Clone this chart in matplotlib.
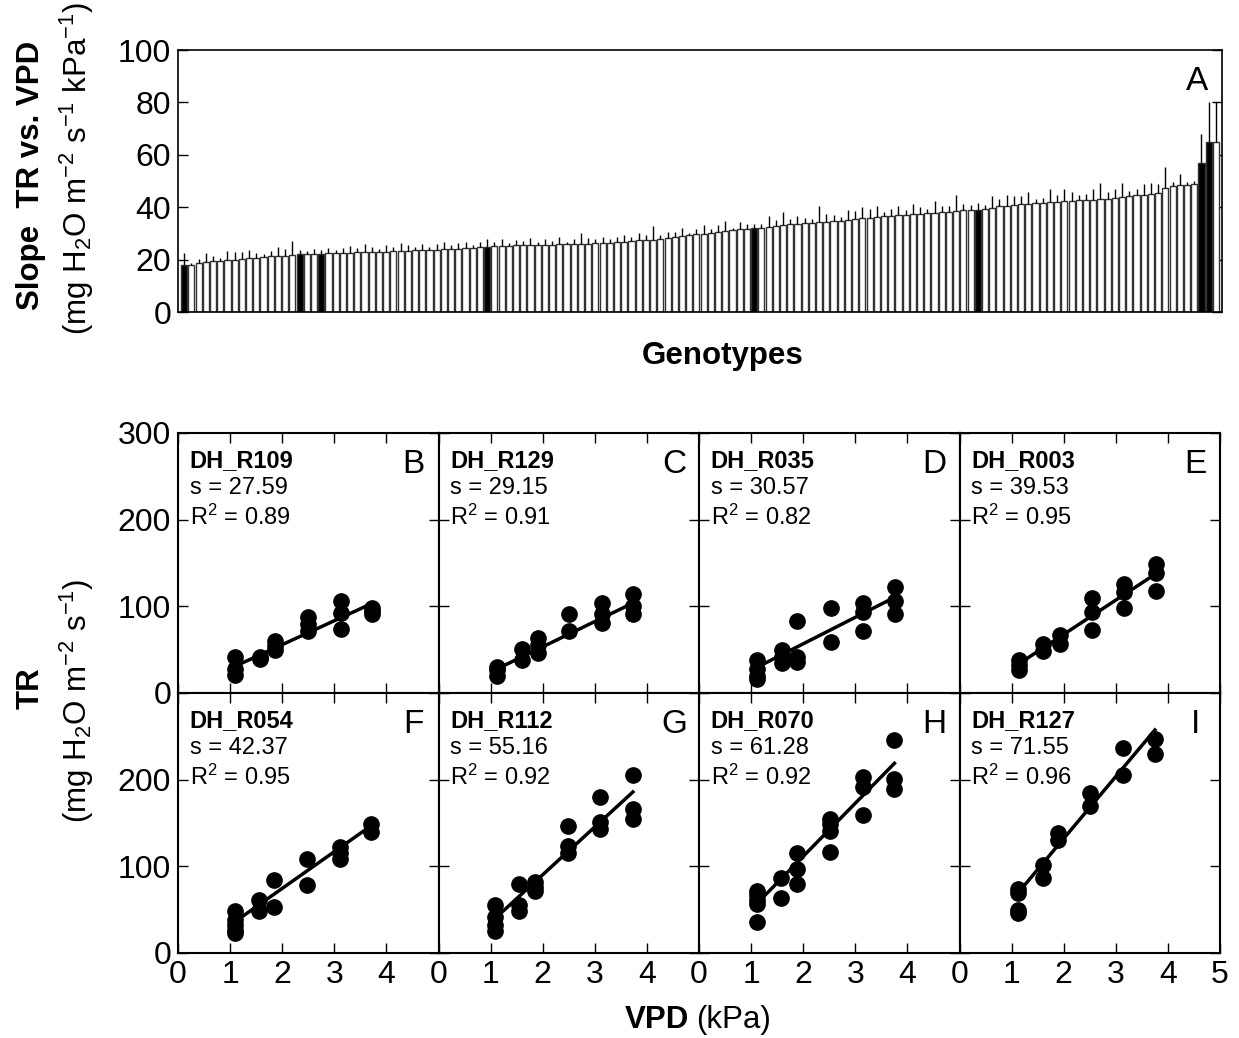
import numpy as np
import matplotlib
matplotlib.use("Agg")
import matplotlib.pyplot as plt

plt.rcParams['font.family'] = ['Liberation Sans', 'DejaVu Sans']
plt.rcParams['mathtext.fontset'] = 'custom'
plt.rcParams['mathtext.rm'] = 'Liberation Sans'
plt.rcParams['mathtext.it'] = 'Liberation Sans:italic'
plt.rcParams['mathtext.bf'] = 'Liberation Sans:bold'

# ---------------- panel A: slope of TR vs VPD per genotype ----------------
slope_mean = [
    18.0, 17.8, 18.9, 19.2, 19.4, 19.5, 19.8, 20.0, 20.3, 20.5, 20.7, 21.0,
    21.2, 21.3, 21.5, 21.6, 22.0, 22.1, 22.2, 22.3, 22.4, 22.5, 22.6, 22.7,
    22.8, 22.9, 23.0, 23.0, 23.1, 23.2, 23.3, 23.4, 23.5, 23.6, 23.7, 23.8,
    23.9, 24.0, 24.2, 24.4, 24.6, 24.8, 25.0, 25.1, 25.2, 25.3, 25.4, 25.5,
    25.6, 25.6, 25.7, 25.7, 25.8, 25.8, 25.9, 26.0, 26.1, 26.2, 26.3, 26.5,
    26.7, 26.9, 27.1, 27.3, 27.4, 27.5, 27.8, 28.2, 28.6, 29.0, 29.3, 29.6,
    29.9, 30.2, 30.6, 30.9, 31.2, 31.5, 31.7, 32.0, 32.2, 32.5, 32.8, 33.2,
    33.5, 33.7, 33.9, 34.1, 34.3, 34.5, 34.7, 34.9, 35.1, 35.4, 35.7, 36.0,
    36.3, 36.5, 36.7, 36.9, 37.1, 37.3, 37.5, 37.7, 37.9, 38.1, 38.3, 38.6,
    38.8, 38.9, 39.0, 39.3, 39.8, 40.3, 40.6, 40.9, 41.1, 41.3, 41.5, 41.7,
    41.9, 42.1, 42.3, 42.5, 42.6, 42.7, 42.9, 43.1, 43.3, 43.6, 43.9, 44.2,
    44.5, 44.8, 45.1, 45.4, 47.2, 48.0, 48.3, 48.6, 49.0, 57.0, 65.0, 65.0,
]
slope_se = [
    4.5, 1.0, 1.5, 3.5, 2.0, 1.0, 3.5, 3.0, 2.5, 3.0, 2.0, 1.0,
    2.0, 3.5, 2.5, 5.5, 1.5, 1.2, 2.0, 1.5, 2.0, 1.0, 2.0, 2.5,
    1.5, 3.0, 2.0, 1.0, 2.5, 1.5, 3.0, 2.0, 1.5, 2.5, 1.0, 2.0,
    3.0, 1.5, 2.0, 2.5, 1.0, 2.0, 3.0, 1.5, 2.5, 1.0, 2.0, 1.5,
    2.5, 1.0, 2.0, 1.5, 3.0, 1.0, 2.0, 4.0, 2.0, 1.5, 2.5, 1.5,
    2.0, 2.5, 1.5, 3.0, 2.0, 5.5, 1.5, 2.5, 2.0, 3.0, 1.0, 2.0,
    3.5, 1.5, 2.5, 4.0, 1.0, 3.0, 2.0, 1.5, 1.5, 4.0, 2.5, 5.0,
    2.0, 3.0, 2.0, 1.5, 6.0, 3.0, 2.5, 1.5, 4.0, 3.0, 4.5, 3.5,
    4.0, 1.5, 2.5, 3.5, 2.0, 4.0, 2.5, 1.5, 4.5, 2.5, 2.0, 6.0,
    2.5, 2.0, 2.5, 1.5, 4.5, 3.0, 4.0, 3.5, 3.0, 4.5, 1.5, 2.0,
    5.0, 2.5, 4.5, 3.5, 2.0, 2.5, 4.0, 6.0, 2.5, 3.5, 5.5, 2.0,
    2.5, 4.0, 4.0, 3.5, 8.0, 1.5, 4.5, 1.0, 1.0, 11.0, 15.0, 15.0,
]
highlight_idx = [0, 16, 19, 42, 79, 110, 141, 142]

# ---------------- panels B-I: TR vs VPD for selected genotypes ----------------
names = ["DH_R109", "DH_R129", "DH_R035", "DH_R003",
         "DH_R054", "DH_R112", "DH_R070", "DH_R127"]
letters = ["B", "C", "D", "E", "F", "G", "H", "I"]
slopes = [27.59, 29.15, 30.57, 39.53, 42.37, 55.16, 61.28, 71.55]
r2 = [0.89, 0.91, 0.82, 0.95, 0.95, 0.92, 0.92, 0.96]
intercepts = [0.6, -5.0, -4.4, -11.4, -10.2, -20.0, -11.0, -11.0]

vpd_B = [1.1, 1.1, 1.1, 1.58, 1.58, 1.87, 1.87, 1.87, 2.5, 2.5, 2.5, 3.12, 3.12, 3.12, 3.73, 3.73, 3.73]
tr_B = [41, 28, 21, 42, 39, 60, 54, 50, 88, 80, 71, 106, 92, 74, 98, 94, 91]
vpd_C = [1.13, 1.13, 1.13, 1.6, 1.6, 1.9, 1.9, 1.9, 2.5, 2.5, 3.13, 3.13, 3.13, 3.73, 3.73, 3.73]
tr_C = [30, 26, 20, 51, 38, 63, 55, 46, 91, 71, 104, 91, 81, 114, 100, 91]
vpd_D = [1.12, 1.12, 1.12, 1.12, 1.6, 1.6, 1.6, 1.88, 1.88, 1.88, 2.53, 2.53, 3.15, 3.15, 3.15, 3.76, 3.76, 3.76]
tr_D = [38, 28, 20, 16, 49, 42, 34, 83, 42, 36, 98, 59, 104, 93, 71, 122, 106, 91]
vpd_E = [1.14, 1.14, 1.14, 1.6, 1.6, 1.92, 1.92, 2.54, 2.54, 2.54, 3.16, 3.16, 3.16, 3.77, 3.77, 3.77]
tr_E = [38, 32, 26, 57, 48, 67, 57, 110, 93, 73, 126, 116, 98, 149, 138, 118]
vpd_F = [1.09, 1.09, 1.09, 1.09, 1.09, 1.55, 1.55, 1.85, 1.85, 2.48, 2.48, 3.1, 3.1, 3.1, 3.71, 3.71]
tr_F = [48, 38, 32, 26, 23, 61, 48, 84, 53, 109, 78, 122, 115, 109, 149, 140]
vpd_G = [1.09, 1.09, 1.09, 1.09, 1.55, 1.55, 1.55, 1.85, 1.85, 1.85, 2.48, 2.48, 2.48, 3.1, 3.1, 3.1, 3.73, 3.73, 3.73]
tr_G = [55, 42, 32, 25, 80, 55, 48, 82, 76, 71, 147, 124, 115, 180, 151, 143, 205, 166, 155]
vpd_H = [1.12, 1.12, 1.12, 1.12, 1.12, 1.58, 1.58, 1.88, 1.88, 1.88, 2.51, 2.51, 2.51, 2.51, 3.14, 3.14, 3.14, 3.75, 3.75, 3.75]
tr_H = [72, 67, 61, 57, 36, 86, 63, 115, 97, 80, 155, 149, 141, 117, 203, 191, 159, 246, 201, 189]
vpd_I = [1.13, 1.13, 1.13, 1.13, 1.6, 1.6, 1.89, 1.89, 2.5, 2.5, 3.14, 3.14, 3.75, 3.75]
tr_I = [74, 69, 50, 46, 101, 86, 138, 130, 185, 170, 237, 205, 247, 230]

vpd_all = [vpd_B, vpd_C, vpd_D, vpd_E, vpd_F, vpd_G, vpd_H, vpd_I]
tr_all = [tr_B, tr_C, tr_D, tr_E, tr_F, tr_G, tr_H, tr_I]

TICK_FS = 23
LABEL_FS = 22.5

fig = plt.figure(figsize=(12.39, 10.38), dpi=100)

# ---- top bar chart
axA = fig.add_axes([0.1437, 0.6994, 0.8426, 0.2524])
x = np.arange(len(slope_mean))
cols = ['black' if i in highlight_idx else 'white' for i in x]
axA.bar(x, slope_mean, width=0.85, color=cols, edgecolor='#333333', linewidth=1.0, zorder=2)
axA.errorbar(x, slope_mean, yerr=[np.zeros(len(x)), slope_se], fmt='none',
             ecolor='black', elinewidth=1.0, capsize=0, zorder=3)
axA.set_xlim(-0.85, len(x) - 0.15)
axA.set_ylim(0, 100)
axA.set_yticks(range(0, 101, 20))
axA.set_xticks([])
axA.tick_params(axis='y', direction='in', right=True, length=7, width=1,
                labelsize=TICK_FS, pad=5)
for s in axA.spines.values():
    s.set_linewidth(1.2)
axA.text(0.987, 0.88, "A", transform=axA.transAxes, ha='right', va='center', fontsize=24)

fig.text(0.025, 0.831, "Slope  TR vs. VPD", rotation=90, ha='center', va='center',
         fontsize=LABEL_FS, fontweight='bold')
fig.text(0.062, 0.838, r"(mg H$_2$O m$^{-2}$ s$^{-1}$ kPa$^{-1}$)", rotation=90,
         ha='center', va='center', fontsize=LABEL_FS)
fig.text(0.583, 0.657, "Genotypes", ha='center', va='center', fontsize=LABEL_FS,
         fontweight='bold')

# ---- bottom grid of scatter panels
left, right, bottom, top = 0.1437, 0.9847, 0.0819, 0.5829
w = (right - left) / 4
h = (top - bottom) / 2
for k in range(8):
    r, c = divmod(k, 4)
    ax = fig.add_axes([left + c * w, top - (r + 1) * h, w, h])
    vx = np.array(vpd_all[k])
    ty = np.array(tr_all[k])
    ax.plot(vx, ty, 'o', color='black', markersize=11, zorder=3)
    xl = np.array([vx.min(), vx.max()])
    ax.plot(xl, slopes[k] * xl + intercepts[k], color='black', linewidth=2.5, zorder=2)
    ax.set_xlim(0, 5)
    ax.set_ylim(0, 300)
    ax.set_xticks([0, 1, 2, 3, 4, 5])
    ax.set_yticks([0, 100, 200, 300])
    ax.tick_params(direction='in', top=True, right=True, length=7, width=1,
                   labelsize=TICK_FS, pad=5)
    if r == 1:
        ax.set_xticklabels(['0', '1', '2', '3', '4', '5' if c == 3 else ''])
    else:
        ax.set_xticklabels([])
    if c == 0:
        ax.set_yticklabels(['0', '100', '200', '300' if r == 0 else ''])
    else:
        ax.set_yticklabels([])
    for s in ax.spines.values():
        s.set_linewidth(1.5)
    ax.text(0.045, 0.895, names[k], transform=ax.transAxes, ha='left', va='center',
            fontsize=17, fontweight='bold')
    ax.text(0.045, 0.79, "s = %.2f" % slopes[k], transform=ax.transAxes,
            ha='left', va='center', fontsize=17)
    ax.text(0.045, 0.675, r"R$^2$ = %.2f" % r2[k], transform=ax.transAxes,
            ha='left', va='center', fontsize=17)
    ax.text(0.905, 0.877, letters[k], transform=ax.transAxes, ha='center', va='center',
            fontsize=24)

fig.text(0.025, 0.337, "TR", rotation=90, ha='center', va='center',
         fontsize=LABEL_FS, fontweight='bold')
fig.text(0.062, 0.325, r"(mg H$_2$O m$^{-2}$ s$^{-1}$)", rotation=90,
         ha='center', va='center', fontsize=LABEL_FS)
fig.text(0.556, 0.017, "VPD", ha='right', va='center', fontsize=LABEL_FS, fontweight='bold')
fig.text(0.562, 0.017, "(kPa)", ha='left', va='center', fontsize=LABEL_FS)

fig.savefig("out.png", dpi=100)
